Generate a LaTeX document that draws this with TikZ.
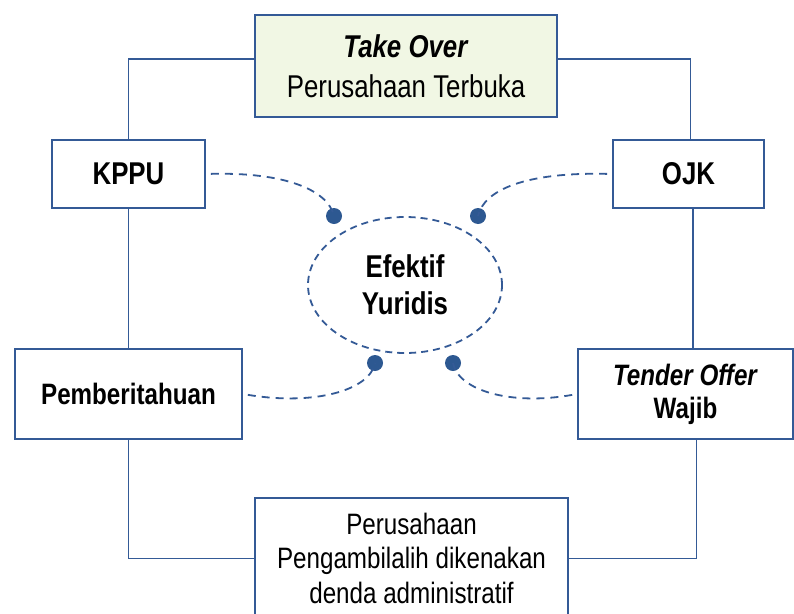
\documentclass[tikz,border=0pt]{standalone}
\usepackage{fontspec}
\setmainfont{Liberation Sans}[FakeStretch=0.82]
\usetikzlibrary{shapes.geometric}
\definecolor{frameblue}{RGB}{52,90,150}
\definecolor{dotblue}{RGB}{45,88,145}
\definecolor{topfill}{RGB}{241,247,228}
\tikzset{
  box/.style={draw=frameblue, line width=1.8pt, fill=white, align=center,
    inner sep=0pt, font=\fontsize{29.5}{34.5}\selectfont},
  hub/.style={ellipse, draw=frameblue, line width=1.8pt, dash pattern=on 7pt off 5pt,
    align=center, inner sep=0pt, minimum width=194pt, minimum height=136pt,
    font=\fontsize{31.5}{37}\selectfont\bfseries},
  link/.style={draw=frameblue, line width=1.5pt},
  dashlink/.style={draw=frameblue, line width=1.8pt, dash pattern=on 8pt off 6pt,
    shorten <=5pt},
  dot/.style={circle, fill=dotblue, inner sep=0pt, minimum size=16pt}
}

\begin{document}
\begin{tikzpicture}[x=1pt, y=-1pt]
  \useasboundingbox (0,0) rectangle (794,613);

  % boxes
  \node[box, fill=topfill, minimum width=302pt, minimum height=102pt,
    font=\fontsize{31.5}{40}\selectfont] (takeover) at (406,66)
    {\textbf{\textit{Take Over}}\\Perusahaan Terbuka};
  \node[box, minimum width=153pt, minimum height=68pt, font=\fontsize{31.5}{37}\selectfont]
    (kppu) at (128.5,174) {\textbf{KPPU}};
  \node[box, minimum width=151pt, minimum height=68pt, font=\fontsize{31.5}{37}\selectfont]
    (ojk) at (688.5,174) {\textbf{OJK}};
  \node[box, minimum width=227pt, minimum height=90pt] (pemberitahuan) at (128.5,394)
    {\textbf{Pemberitahuan}};
  \node[box, minimum width=215pt, minimum height=90pt, font=\fontsize{29.5}{33}\selectfont]
    (tender) at (685.5,394) {\textbf{\textit{Tender Offer}}\\\textbf{Wajib}};
  \node[box, anchor=north, minimum width=313pt, minimum height=121pt] (denda) at (411.5,497)
    {Perusahaan\\Pengambilalih dikenakan\\denda administratif};
  \node[hub] (efektif) at (405,285) {Efektif\\Yuridis};

  % solid links
  \draw[link] ([yshift=7pt]takeover.west) -| (kppu.north);
  \draw[link] ([yshift=7pt]takeover.east) -| ([xshift=2pt]ojk.north);
  \draw[link] (kppu) -- (pemberitahuan);
  \draw[link] ([xshift=4.5pt]ojk.south) -- ([xshift=4.5pt]ojk.south |- tender.north);
  \draw[link] (pemberitahuan.south) |- (denda.west);
  \draw[link] ([xshift=11pt]tender.south) |- (denda.east);

  % dots round the ellipse
  \node[dot] (dotkppu) at (334,216) {};
  \node[dot] (dotojk) at (478,216) {};
  \node[dot] (dotpemb) at (375,363) {};
  \node[dot] (dottender) at (453,363) {};

  % dashed links
  \draw[dashlink] (kppu.east) .. controls (285,172) and (328,190) .. (dotkppu.center);
  \draw[dashlink] (ojk.west) .. controls (525,172) and (484,190) .. (dotojk.center);
  \draw[dashlink] (pemberitahuan.east) .. controls (315,406) and (370,390) .. (dotpemb.center);
  \draw[dashlink] (tender.west) .. controls (510,406) and (458,390) .. (dottender.center);
\end{tikzpicture}
\end{document}
